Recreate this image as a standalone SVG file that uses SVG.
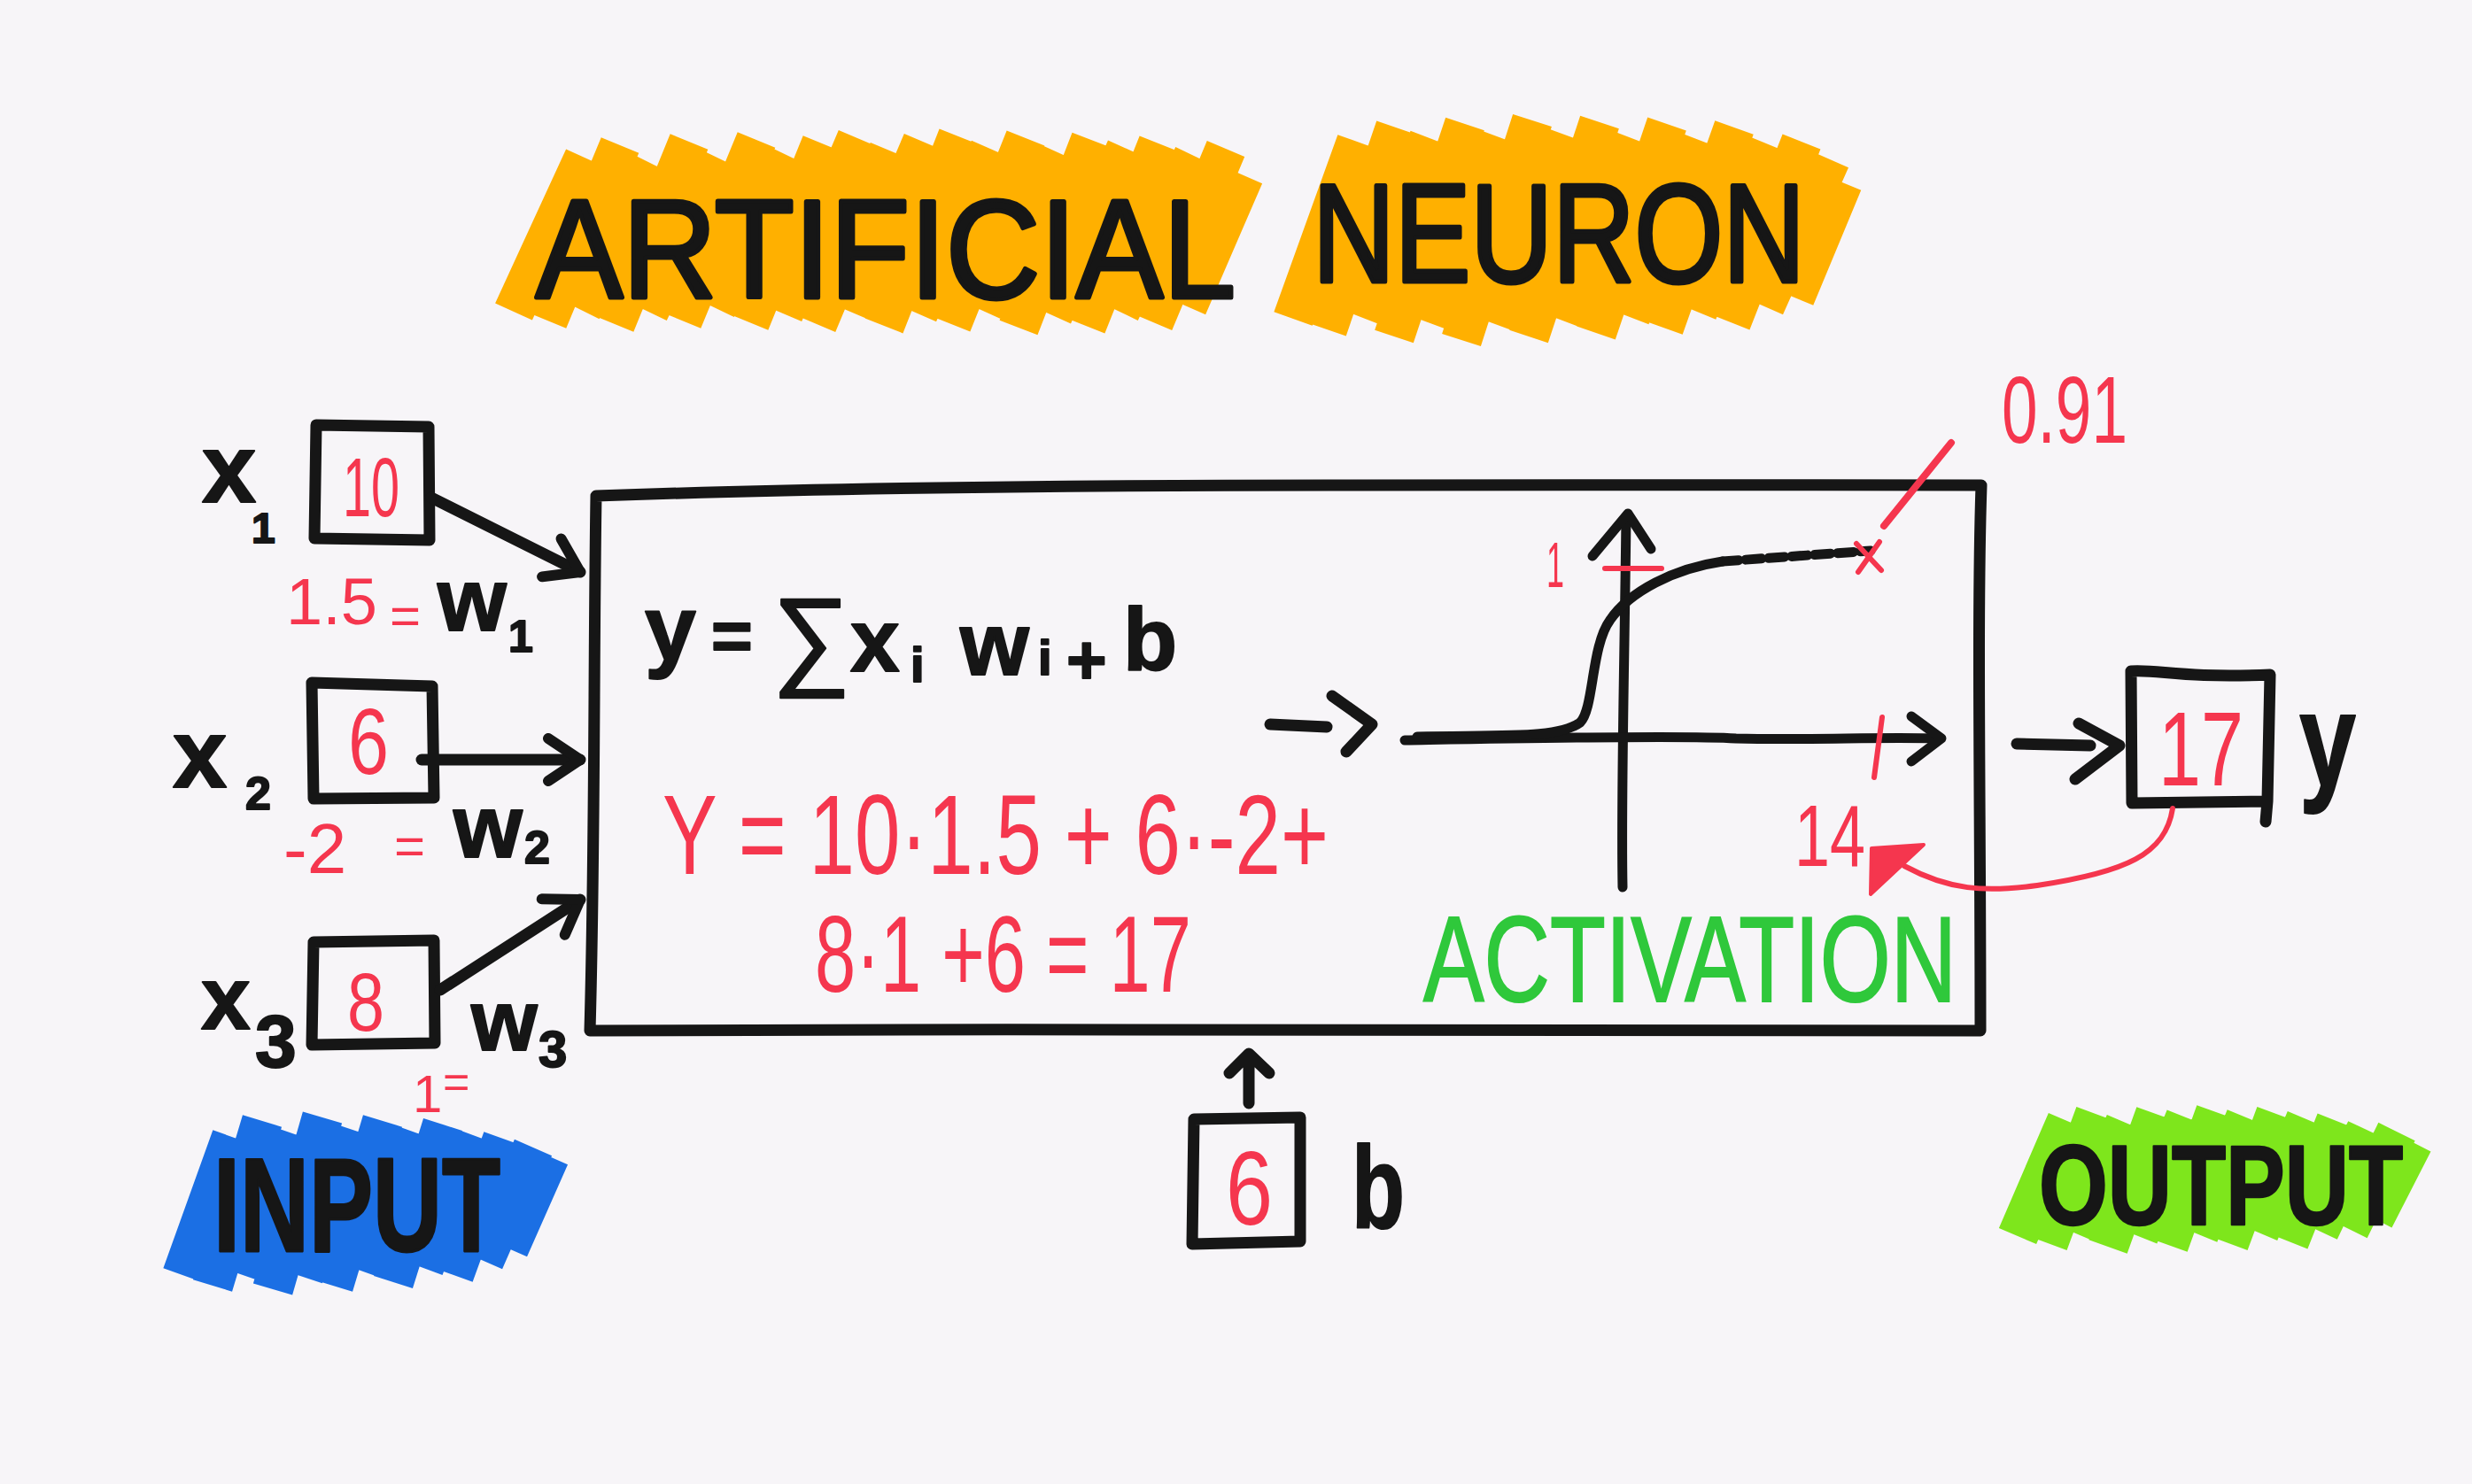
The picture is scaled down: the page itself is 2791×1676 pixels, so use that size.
<svg xmlns="http://www.w3.org/2000/svg" width="2791" height="1676" viewBox="0 0 2791 1676">
<defs>
<style>
.bg{fill:#f7f5f8}
.ln{stroke:#161616;stroke-width:13;fill:none;stroke-linecap:round;stroke-linejoin:round}
.thin{stroke:#161616;stroke-width:11;fill:none;stroke-linecap:round;stroke-linejoin:round}
.rl{stroke:#f5364e;stroke-width:6;fill:none;stroke-linecap:round;stroke-linejoin:round}
.blk{font-family:"Liberation Sans",Arial,sans-serif;font-weight:bold;fill:#161616;stroke:#161616;stroke-width:2;stroke-linejoin:round}
.red{font-family:"Liberation Sans",Arial,sans-serif;fill:#f5364e}
.grn{font-family:"Liberation Sans",Arial,sans-serif;fill:#2fc83b;stroke:#2fc83b;stroke-width:2}
.hl{fill:none;stroke-width:46;stroke-linecap:butt}
</style>
<marker id="chev" markerUnits="userSpaceOnUse" markerWidth="70" markerHeight="70" refX="44" refY="30" orient="auto" viewBox="0 0 70 70">
<path d="M8 6 L44 30 L8 54" fill="none" stroke="#161616" stroke-width="12" stroke-linecap="round" stroke-linejoin="round"/>
</marker>
</defs>
<rect class="bg" x="0" y="0" width="2791" height="1676"/>

<!-- Title -->
<g id="title">
<path class="hl" stroke="#ffb000" d="M580 352 L660 178 M618 362 L700 164 M656 350 L738 186 M694 366 L778 160 M732 352 L814 180 M770 362 L854 158 M808 348 L890 176 M846 364 L928 162 M884 354 L968 156 M922 366 L1004 170 M960 352 L1042 160 M998 368 L1082 154 M1036 354 L1118 168 M1074 366 L1158 156 M1112 352 L1194 172 M1150 370 L1232 158 M1188 356 L1272 168 M1226 368 L1308 162 M1264 352 L1348 176 M1302 364 L1384 168 M1340 346 L1404 198 M1460 360 L1532 160 M1498 372 L1576 144 M1536 358 L1614 156 M1574 380 L1654 140 M1612 364 L1690 154 M1650 384 L1730 136 M1688 366 L1766 152 M1726 380 L1806 138 M1764 362 L1842 156 M1802 376 L1882 140 M1840 358 L1918 158 M1878 370 L1958 144 M1916 352 L1994 162 M1954 364 L2034 160 M1992 346 L2066 180 M2026 336 L2080 206"/>
<text class="blk" x="605" y="336" font-size="158" textLength="790" lengthAdjust="spacingAndGlyphs" style="font-weight:normal;stroke-width:5">ARTIFICIAL</text>
<text class="blk" x="1482" y="318" font-size="158" textLength="556" lengthAdjust="spacingAndGlyphs" style="font-weight:normal;stroke-width:5">NEURON</text>
</g>

<!-- Input x1 -->
<g id="node-x1">
<path class="ln" d="M357 480 L484 482 L485 610 L355 608 Z"/>
<text class="red" x="387" y="583" font-size="94" textLength="64" lengthAdjust="spacingAndGlyphs">10</text>
<text class="blk" x="228" y="567" font-size="110">x<tspan x="284" y="613" font-size="48">1</tspan></text>
<text class="red" x="323" y="705" font-size="74">1.5<tspan x="440" y="716" font-size="60">=</tspan></text>
<text class="blk" x="494" y="712" font-size="100">w<tspan x="574" y="736" font-size="50">1</tspan></text>
</g>

<!-- Input x2 -->
<g id="node-x2">
<path class="ln" d="M352 771 L488 775 L490 901 L354 902 Z"/>
<text class="red" x="393" y="874" font-size="106" textLength="46" lengthAdjust="spacingAndGlyphs">6</text>
<text class="blk" x="195" y="889" font-size="110">x<tspan x="277" y="914" font-size="52">2</tspan></text>
<text class="red" x="320" y="986" font-size="80">-2<tspan x="445" y="976" font-size="60">=</tspan></text>
<text class="blk" x="512" y="968" font-size="100">w<tspan x="592" y="975" font-size="52">2</tspan></text>
</g>

<!-- Input x3 -->
<g id="node-x3">
<path class="ln" d="M354 1064 L490 1062 L491 1178 L352 1180 Z"/>
<text class="red" x="392" y="1164" font-size="92" textLength="42" lengthAdjust="spacingAndGlyphs">8</text>
<text class="blk" x="227" y="1162" font-size="100">x<tspan x="288" y="1205" font-size="84">3</tspan></text>
<text class="blk" x="532" y="1186" font-size="96">w<tspan x="608" y="1205" font-size="58">3</tspan></text>
<text class="red" x="466" y="1256" font-size="60">1<tspan x="500" y="1240" font-size="52">=</tspan></text>
</g>

<!-- Neuron -->
<g id="node-neuron">
<path class="ln" d="M673 560 C 900 552, 1200 548, 1500 548 C 1800 546, 2000 548, 2237 548 C 2232 700, 2236 900, 2236 1164 C 1800 1162, 1200 1162, 666 1164 C 672 950, 670 750, 673 560 Z"/>
<text class="blk" font-size="100" y="745"><tspan x="728" font-size="104">y</tspan><tspan x="803" y="745" font-size="80">=</tspan><tspan x="872" y="762" font-size="124" style="font-weight:normal">∑</tspan><tspan x="960" y="758" font-size="100">x</tspan><tspan x="1028" y="770" font-size="56">i</tspan><tspan x="1084" y="762" font-size="100">w</tspan><tspan x="1172" y="762" font-size="56">i</tspan><tspan x="1204" y="772" font-size="78">+</tspan><tspan x="1268" y="757" font-size="100">b</tspan></text>
<text class="red" x="748" y="987" font-size="128" textLength="752" lengthAdjust="spacingAndGlyphs">Y = 10·1.5 + 6·-2+</text>
<text class="red" x="920" y="1120" font-size="122" textLength="425" lengthAdjust="spacingAndGlyphs">8·1 +6 = 17</text>
<g id="activation-graph">
<path class="thin" d="M1832 1002 C 1830 900, 1834 760, 1836 584"/>
<path class="thin" d="M1798 628 L1838 580 L1864 620"/>
<path class="thin" d="M1586 836 C 1700 834, 1900 830, 1960 834 C 2050 836, 2120 832, 2188 834"/>
<path class="thin" d="M2158 809 L2192 834 L2158 860"/>
<path class="thin" d="M1600 832 C 1700 830, 1760 834, 1784 816 C 1800 800, 1796 730, 1818 700 C 1840 668, 1890 642, 1945 634"/>
<path class="thin" d="M1945 634 L2112 622" stroke-dasharray="18 8" stroke-linecap="butt"/>
<path class="rl" d="M1812 642 L1876 642"/>
<path class="rl" d="M2125 810 L2116 878"/>
<path class="rl" d="M2096 614 L2124 644 M2122 612 L2098 646"/>
<path class="rl" d="M2127 594 L2203 500" style="stroke-width:8"/>
<text class="red" x="1746" y="663" font-size="72" textLength="20" lengthAdjust="spacingAndGlyphs">1</text>
<text class="red" x="2026" y="978" font-size="98" textLength="80" lengthAdjust="spacingAndGlyphs">14</text>
<text class="red" x="2260" y="500" font-size="108" textLength="142" lengthAdjust="spacingAndGlyphs">0.91</text>
</g>
<text class="grn" x="1607" y="1131" font-size="138" textLength="602" lengthAdjust="spacingAndGlyphs">ACTIVATION</text>
</g>

<!-- Bias -->
<g id="node-bias">
<path class="ln" d="M1348 1264 L1468 1262 L1468 1402 L1346 1405 Z"/>
<text class="red" x="1384" y="1383" font-size="118" textLength="53" lengthAdjust="spacingAndGlyphs">6</text>
<text class="blk" x="1526" y="1387" font-size="132" textLength="60" lengthAdjust="spacingAndGlyphs">b</text>
</g>

<!-- Output -->
<g id="node-output">
<path class="ln" d="M2406 758 C 2440 756, 2460 766, 2563 762 L2560 905 L2407 907 Z M2560 905 L2558 928"/>
<text class="red" x="2437" y="887" font-size="118" textLength="96" lengthAdjust="spacingAndGlyphs">17</text>
<text class="blk" x="2596" y="888" font-size="150" textLength="64" lengthAdjust="spacingAndGlyphs">y</text>
</g>

<!-- Section labels -->
<g id="label-input">
<path class="hl" stroke="#1b6fe4" d="M206 1440 L262 1284 M240 1452 L296 1266 M274 1440 L330 1280 M308 1456 L364 1262 M342 1442 L398 1276 M376 1452 L432 1266 M410 1436 L466 1278 M444 1448 L500 1270 M478 1432 L534 1282 M512 1440 L568 1286 M546 1424 L602 1296 M574 1410 L620 1306"/>
<g transform="translate(241,1413) scale(1,1.4)"><text class="blk" x="0" y="0" font-size="108">INPUT</text></g>
</g>
<g id="label-output">
<path class="hl" stroke="#7ee61c" d="M2278 1396 L2334 1266 M2312 1404 L2366 1258 M2346 1394 L2400 1268 M2380 1408 L2434 1258 M2414 1396 L2468 1262 M2448 1406 L2502 1256 M2482 1394 L2536 1262 M2516 1404 L2570 1258 M2550 1392 L2604 1264 M2584 1402 L2638 1266 M2618 1390 L2672 1276 M2652 1388 L2706 1278 M2680 1376 L2724 1290"/>
<g transform="translate(2302,1383) scale(1,1.28)"><text class="blk" x="0" y="0" font-size="100">OUTPUT</text></g>
</g>

<!-- Connectors -->
<g id="connectors">
<path class="ln" d="M487 562 L655 646" marker-end="url(#chev)"/>
<path class="ln" d="M476 858 L655 858" marker-end="url(#chev)"/>
<path class="ln" d="M497 1118 L655 1016" marker-end="url(#chev)"/>
<path class="ln" d="M1434 818 L1498 821 M1504 786 L1549 818 L1520 849"/>
<path class="ln" d="M2277 840 L2360 842 M2347 817 L2393 842 L2343 880"/>
<path class="ln" d="M1410 1246 L1410 1192 M1388 1212 L1410 1190 L1433 1212"/>
<path class="rl" d="M2453 913 C 2445 965, 2400 985, 2300 1000 C 2240 1008, 2200 1005, 2150 978"/>
<path d="M2113 958 L2172 954 L2112 1010 Z" fill="#f5364e" stroke="#f5364e" stroke-width="4" stroke-linejoin="round"/>
</g>
</svg>
